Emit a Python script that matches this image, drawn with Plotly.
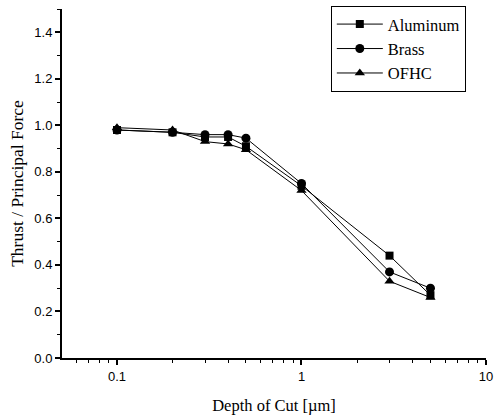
import plotly.graph_objects as go

depth = [0.1, 0.2, 0.3, 0.4, 0.5, 1.0, 3.0, 5.0]
aluminum = [0.98, 0.97, 0.95, 0.95, 0.91, 0.74, 0.44, 0.27]
brass = [0.98, 0.97, 0.96, 0.96, 0.945, 0.75, 0.37, 0.30]
ofhc = [0.99, 0.98, 0.93, 0.92, 0.895, 0.72, 0.33, 0.26]

series = [
    ("Aluminum", aluminum, "square", 8),
    ("Brass", brass, "circle", 9),
    ("OFHC", ofhc, "triangle-up", 9),
]

fig = go.Figure()
for name, vals, sym, sz in series:
    fig.add_trace(go.Scatter(
        x=depth, y=vals, name=name, mode="lines+markers",
        line=dict(color="black", width=1),
        marker=dict(symbol=sym, size=sz, color="black"),
    ))

tickfont = dict(family="Liberation Sans, Arial", size=13, color="black")

fig.update_layout(
    width=494, height=419,
    margin=dict(l=62, r=8, t=6, b=61),
    paper_bgcolor="white", plot_bgcolor="white",
    showlegend=True,
    legend=dict(
        x=0.634, y=1.009, xanchor="left", yanchor="top",
        bordercolor="black", borderwidth=1, bgcolor="white",
        font=dict(family="Liberation Serif, Times New Roman", size=16.5, color="black"),
        tracegroupgap=0, itemwidth=46,
    ),
    xaxis=dict(
        type="log", range=[-1.298, 1.0],
        tickvals=[0.1, 1, 10], ticktext=["0.1", "1", "10"],
        ticks="outside", ticklen=5, tickwidth=1.5, tickcolor="black",
        minor=dict(tickvals=[0.06, 0.07, 0.08, 0.09, 0.2, 0.3, 0.4, 0.5, 0.6, 0.7, 0.8, 0.9,
                             2, 3, 4, 5, 6, 7, 8, 9],
                   ticks="outside", ticklen=3, tickcolor="black", tickwidth=1),
        showline=True, linecolor="black", linewidth=2, mirror=False,
        showgrid=False, zeroline=False, automargin=False,
        ticklabeloverflow="allow",
        tickfont=tickfont,
        title=dict(text="Depth of Cut [µm]",
                   font=dict(family="Liberation Serif, Times New Roman", size=16.5, color="black"),
                   standoff=17),
    ),
    yaxis=dict(
        range=[0, 1.5],
        tickvals=[0, 0.2, 0.4, 0.6, 0.8, 1.0, 1.2, 1.4],
        ticktext=["0.0", "0.2", "0.4", "0.6", "0.8", "1.0", "1.2", "1.4"],
        ticks="outside", ticklen=5, tickwidth=1.5, tickcolor="black",
        minor=dict(dtick=0.1, ticks="outside", ticklen=3, tickcolor="black", tickwidth=1),
        showline=True, linecolor="black", linewidth=2, mirror=False,
        showgrid=False, zeroline=False, automargin=False,
        tickfont=tickfont,
        title=dict(text="Thrust / Principal Force",
                   font=dict(family="Liberation Serif, Times New Roman", size=17.5, color="black"),
                   standoff=6),
    ),
)

fig.write_html("out.html", config={"displayModeBar": False},
               post_script="document.body.style.margin='0';")
